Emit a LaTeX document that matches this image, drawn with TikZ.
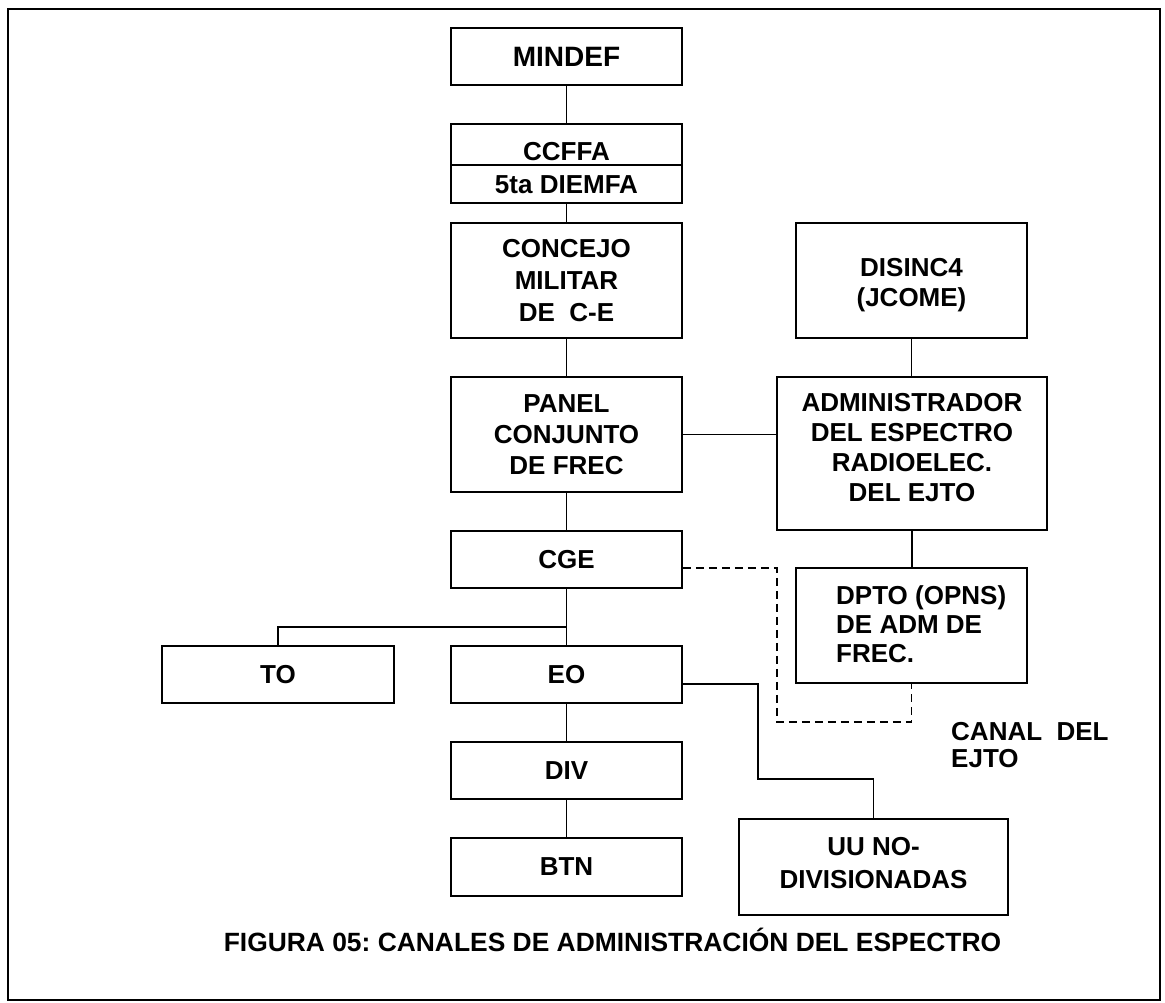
\documentclass[tikz,border=0pt]{standalone}
\usepackage{fontspec}
\setmainfont{Liberation Sans}
\usetikzlibrary{calc}
\frenchspacing
\begin{document}
\begin{tikzpicture}[x=1pt,y=-1pt,
  box/.style={draw,line width=1.8pt,inner sep=0pt,align=center,
    font=\bfseries\fontsize{26}{31}\selectfont},
  wide/.style={minimum width=231pt},
  conn/.style={line width=1.3pt},
  dashline/.style={line width=1.3pt,dash pattern=on 8pt off 5pt},
  lbl/.style={inner sep=0pt,align=center,font=\bfseries\fontsize{26}{31}\selectfont}]
\useasboundingbox (0,0) rectangle (1165,1002);
\draw[line width=1.7pt] (8,9) rectangle (1160,1000);

% left column
\node[box,wide,minimum height=57pt,font=\bfseries\fontsize{28}{31}\selectfont] (mindef) at (566.5,56.5) {MINDEF};
\node[box,wide,minimum height=79pt] (ccffa) at (566.5,163.5) {};
\coordinate (ccdiv) at (451,165);
\draw[line width=1.3pt] (ccffa.west |- ccdiv) -- (ccffa.east |- ccdiv);
\node[lbl] (ccffat) at (566.5,152) {CCFFA};
\node[lbl] (diemfa) at (566.5,185) {5ta DIEMFA};
\node[box,wide,minimum height=115pt,font=\bfseries\fontsize{26}{32}\selectfont] (concejo) at (566.5,280.5) {CONCEJO\\MILITAR\\DE\ \ C-E};
\node[box,wide,minimum height=115pt] (panel) at (566.5,434.5) {PANEL\\CONJUNTO\\DE FREC};
\node[box,wide,minimum height=57pt] (cge) at (566.5,559.5) {CGE};
\node[box,minimum width=232pt,minimum height=57pt] (to) at (278,674.5) {TO};
\node[box,wide,minimum height=57pt] (eo) at (566.5,674.5) {EO};
\node[box,wide,minimum height=57pt] (div) at (566.5,770.5) {DIV};
\node[box,wide,minimum height=58pt] (btn) at (566.5,867) {BTN};

% right column
\node[box,wide,minimum height=115pt] (disinc) at (911.5,280.5) {};
\node[lbl,font=\bfseries\fontsize{26}{30}\selectfont] (disinct) at (911.5,285) {DISINC4\\(JCOME)};
\node[box,minimum width=270pt,minimum height=153pt] (admin) at (912,453.5) {};
\node[lbl,font=\bfseries\fontsize{26}{29.7}\selectfont] (admint) at (912,447.5) {ADMINISTRADOR\\DEL ESPECTRO\\RADIOELEC.\\DEL EJTO};
\node[box,wide,minimum height=115pt] (dpto) at (911.5,625.5) {};
\node[lbl,anchor=west,align=left,font=\bfseries\fontsize{26}{29}\selectfont] (dptot) at (836,624) {DPTO (OPNS)\\DE ADM DE\\FREC.};
\node[box,minimum width=269pt,minimum height=96pt] (uu) at (873.5,867) {};
\node[lbl,font=\bfseries\fontsize{26}{33}\selectfont] (uut) at (873.5,863.5) {UU NO-\\DIVISIONADAS};
\node[lbl,anchor=west,align=left,font=\bfseries\fontsize{26}{27}\selectfont] (canal) at (951,745.5) {CANAL\ \ DEL\\EJTO};

% caption
\node[lbl,font=\bfseries\fontsize{26.4}{31}\selectfont] (caption) at (612.5,940) {FIGURA 05: CANALES DE ADMINISTRACIÓN DEL ESPECTRO};

% connectors
\draw[conn] (mindef) -- (ccffa);
\draw[conn] (ccffa) -- (concejo);
\draw[conn] (concejo) -- (panel);
\draw[conn] (panel) -- (cge);
\draw[conn] (cge) -- (eo);
\draw[conn] (eo) -- (div);
\draw[conn] (div) -- (btn);
\draw[conn] (disinc.south) -- (disinc.south |- admin.north);
\draw[conn] (admin.south) -- (admin.south |- dpto.north);
\draw[conn] (panel.east) -- (panel.east -| admin.west);
\coordinate (br) at (566.5,627);
\draw[conn] (br) -| (to.north);
\coordinate (eoj) at (758,779);
\draw[conn] ([yshift=-9.5pt]eo.east) -| (eoj) -| (uu.north);
\coordinate (dj) at (777,722);
\draw[dashline] ([yshift=-8.5pt]cge.east) -| (dj) -| (dpto.south);
\end{tikzpicture}
\end{document}
